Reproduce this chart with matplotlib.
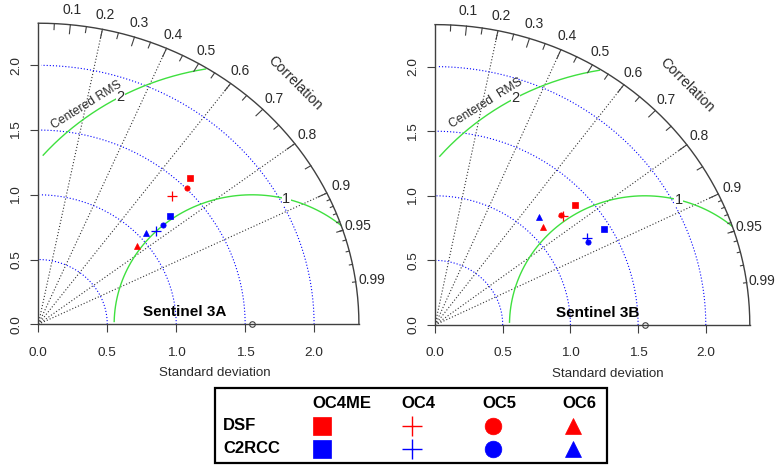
import numpy as np
import matplotlib
matplotlib.use("Agg")
import matplotlib.pyplot as plt
from matplotlib.patches import Rectangle

plt.rcParams['font.family'] = ['Liberation Sans', 'DejaVu Sans']

# ---------------- data ----------------
panel_titles = ["Sentinel 3A", "Sentinel 3B"]
methods = ["DSF", "C2RCC"]
algorithms = ["OC4ME", "OC4", "OC5", "OC6"]
ref_sd = [1.55, 1.55]

# standard deviation and correlation, order = algorithms
sd_3a_dsf = [1.578, 1.386, 1.510, 0.937]
cor_3a_dsf = [0.697, 0.698, 0.715, 0.762]
sd_3a_c2rcc = [1.269, 1.119, 1.184, 1.051]
cor_3a_c2rcc = [0.752, 0.763, 0.762, 0.743]

sd_3b_dsf = [1.392, 1.265, 1.259, 1.101]
cor_3b_dsf = [0.745, 0.745, 0.737, 0.727]
sd_3b_c2rcc = [1.453, 1.310, 1.303, 1.132]
cor_3b_c2rcc = [0.860, 0.859, 0.869, 0.677]

axis_ticks = [0.0, 0.5, 1.0, 1.5, 2.0]
grad_corr_lines = [0.2, 0.4, 0.6, 0.8, 0.9]
corr_labels = [0.1, 0.2, 0.3, 0.4, 0.5, 0.6, 0.7, 0.8, 0.9, 0.95, 0.99]
gamma_levels = [1, 2]

# ---------------- styles ----------------
method_colors = ["red", "blue"]
algo_markers = ["s", "+", "o", "^"]
algo_ms = [4.0, 6.5, 3.8, 4.8]
legend_ms = [13, 14, 12, 12]
GREEN = "#3fe03f"
DARK = "#404040"
TXT = "#2a2a2a"

W, H = 777, 467
fig = plt.figure(figsize=(W / 100, H / 100), dpi=100)


def panel_axes(x0, y0, sx, sy, lim):
    return fig.add_axes([x0 / W, (H - y0) / H, lim * sx / W, lim * sy / H])


def taylor(ax, ref, sd_sets, cor_sets, title, title_xy, rms_text, rms_xy):
    maxsd = 1.5 * ref
    lim = maxsd * 1.1
    ax.set_xlim(0, lim)
    ax.set_ylim(0, lim)
    ax.set_facecolor("none")
    for s in ["top", "right"]:
        ax.spines[s].set_visible(False)
    for s in ["left", "bottom"]:
        ax.spines[s].set_bounds(0, maxsd)
        ax.spines[s].set_color(DARK)
        ax.spines[s].set_linewidth(1.0)
    ax.set_xticks(axis_ticks)
    ax.set_yticks(axis_ticks)
    ax.set_xticklabels([f"{t:.1f}" for t in axis_ticks])
    ax.set_yticklabels([f"{t:.1f}" for t in axis_ticks], rotation=90, va="center")
    ax.tick_params(axis="both", length=5.5, width=0.8, color=DARK,
                   labelsize=9.7, labelcolor=TXT)
    ax.tick_params(axis="x", pad=10.5)
    ax.tick_params(axis="y", pad=6)
    ax.annotate("Standard deviation", xy=(0.5, 0), xycoords="axes fraction",
                xytext=(0, -35), textcoords="offset points", ha="center",
                va="center", fontsize=9.6, color=TXT)

    # correlation lines
    for g in grad_corr_lines:
        ax.plot([0, maxsd * g], [0, maxsd * np.sqrt(1 - g * g)],
                ls=(0, (1, 1.8)), color="#333333", lw=0.8)
    # sd arcs
    t = np.arange(0, np.pi / 2, 0.03)
    for s in axis_ticks:
        ax.plot(np.cos(t) * s, np.sin(t) * s, color="blue",
                ls=(0, (1, 1.8)), lw=0.8)
    # centered RMS arcs
    t = np.arange(0, np.pi + 1e-9, 0.03)
    labelpos = np.round(np.linspace(45, 70, len(gamma_levels))).astype(int) - 1
    for i, g in enumerate(gamma_levels):
        x = np.cos(t) * g + ref
        y = np.sin(t) * g
        keep = (x >= 0) & (x * x + y * y <= maxsd * maxsd)
        ax.plot(x[keep], y[keep], color=GREEN, lw=1.0)
        k = labelpos[i]
        ax.text(x[k], y[k], str(g), ha="center", va="center", fontsize=10.5,
                color=TXT, bbox=dict(fc="white", ec="none", pad=0.3), zorder=4)
    ax.text(rms_xy[0], rms_xy[1], rms_text, rotation=32, ha="center",
            va="center", fontsize=8.7, color=TXT)

    # outer arc
    t = np.linspace(0, np.pi / 2, 160)
    ax.plot(np.cos(t) * maxsd, np.sin(t) * maxsd, color=DARK, lw=1.0,
            clip_on=False)
    big = np.arccos(np.arange(1, 10) / 10)
    med = np.arccos(np.arange(0.05, 0.96, 0.1))
    tiny = np.arccos(np.arange(91, 100) / 100)
    for angs, f in [(big, 0.97), (med, 0.98), (tiny, 0.99)]:
        for a in angs:
            ax.plot([np.cos(a) * maxsd, np.cos(a) * f * maxsd],
                    [np.sin(a) * maxsd, np.sin(a) * f * maxsd],
                    color=DARK, lw=0.8)
    for c in corr_labels:
        a = np.arccos(c)
        ax.text(np.cos(a) * 1.05 * maxsd, np.sin(a) * 1.05 * maxsd, f"{c:g}",
                ha="center", va="center", fontsize=10, color=TXT)
    ax.text(maxsd * 0.8, maxsd * 0.8, "Correlation", rotation=-45,
            ha="center", va="center", fontsize=10.3, color=TXT)

    # reference point
    ax.plot([ref], [0], "o", mfc="none", mec=DARK, ms=4, mew=0.8,
            clip_on=False, zorder=5)

    # model points
    for mi in range(len(methods)):
        sds = np.array(sd_sets[mi])
        cors = np.array(cor_sets[mi])
        xs = sds * cors
        ys = sds * np.sqrt(1 - cors ** 2)
        for j in range(len(algorithms)):
            ax.plot(xs[j], ys[j], algo_markers[j], color=method_colors[mi],
                    ms=algo_ms[j], mew=0.9 if algo_markers[j] == "+" else 0.5,
                    zorder=6)

    ax.text(title_xy[0], title_xy[1], title, ha="center", va="center",
            fontsize=11, fontweight="bold", color="black")


ax1 = panel_axes(38.3, 324.3, 137.9, 129.5, 1.5 * ref_sd[0] * 1.1)
taylor(ax1, ref_sd[0], [sd_3a_dsf, sd_3a_c2rcc], [cor_3a_dsf, cor_3a_c2rcc],
       panel_titles[0], (1.064, 0.097), "Centered RMS", (0.353, 1.693))

ax2 = panel_axes(435.0, 325.0, 135.4, 129.2, 1.5 * ref_sd[1] * 1.1)
taylor(ax2, ref_sd[1], [sd_3b_dsf, sd_3b_c2rcc], [cor_3b_dsf, cor_3b_c2rcc],
       panel_titles[1], (1.199, 0.090), "Centered  RMS", (0.377, 1.718))

# ---------------- legend box ----------------
lax = fig.add_axes([0, 0, 1, 1])
lax.set_xlim(0, W)
lax.set_ylim(H, 0)
lax.axis("off")
lax.set_facecolor("none")
lax.add_patch(Rectangle((215, 388), 392, 75, fill=False, ec="black", lw=1.6))
col_x = [322.3, 411.7, 492.7, 572.7]
header_y = 403.5
row_y = [425.5, 448.5]
for j, a in enumerate(algorithms):
    lax.text(col_x[j] - 10, header_y, a, ha="left", va="center",
             fontsize=12, fontweight="bold", color="black")
for i, m in enumerate(methods):
    lax.text(223, row_y[i], m, ha="left", va="center", fontsize=12,
             fontweight="bold", color="black")
    for j in range(len(algorithms)):
        lax.plot(col_x[j], row_y[i], algo_markers[j], color=method_colors[i],
                 ms=legend_ms[j], mew=1.0 if algo_markers[j] == "+" else 0.5)

fig.savefig("out.png", dpi=100)
